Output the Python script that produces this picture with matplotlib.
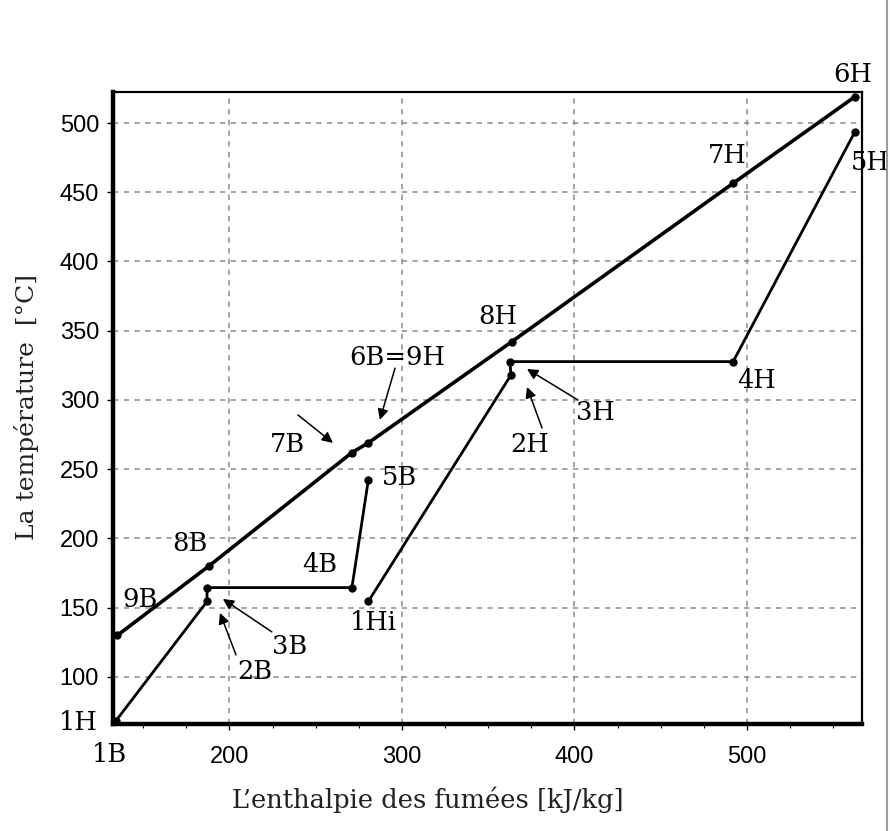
import numpy as np
import matplotlib.pyplot as plt
from matplotlib.lines import Line2D
from matplotlib.ticker import MultipleLocator

# ------------------------------------------------------------------
#                          data
# ------------------------------------------------------------------
# fumees (gas line), from 9B up to 6H
gas_h = [135, 188, 271, 280.5, 363.6, 492, 562.6]
gas_t = [130, 180, 262, 269, 342, 456.5, 519]

# basse pression : 1B -> 2B -> 3B -> 4B -> 5B
bp_h = [134, 187, 187, 271, 280.5]
bp_t = [68, 154.5, 164.5, 164.5, 242]

# haute pression : 1Hi -> 2H -> 3H -> 4H -> 5H
hp_h = [280.5, 363.2, 362.6, 492, 562.6]
hp_t = [154.5, 318, 327.7, 327.7, 493.7]

x_ticks = [200, 300, 400, 500]
y_ticks = [100, 150, 200, 250, 300, 350, 400, 450, 500]

# ------------------------------------------------------------------
#                          layout
# ------------------------------------------------------------------
# plain labels : (text, x, y)
labels = [
    ("6H", 561.4, 534.7), ("5H", 571.3, 471.8), ("7H", 488.4, 476.9),
    ("8H", 355.7, 360.0), ("4H", 505.8, 314.4), ("5B", 298.8, 243.7),
    ("4B", 252.5, 180.9), ("8B", 177.1, 196.7), ("9B", 148.1, 155.6),
    ("1Hi", 283.2, 139.0), ("1H", 112.2, 66.8), ("1B", 130.7, 43.7),
]
# labels with arrow : (text, text xy, arrow tail, arrow head)
arrows = [
    ("3H", (411.9, 290.6), (402.0, 300.0), (372.5, 322.4)),
    ("2H", (374.2, 267.5), (381.2, 279.8), (372.5, 309.4)),
    ("6B=9H", (297.1, 331.0), (296.0, 323.0), (287.2, 285.6)),
    ("7B", (233.9, 267.5), (239.7, 289.2), (260.0, 269.0)),
    ("3B", (235.1, 121.7), (224.6, 132.5), (196.2, 156.3)),
    ("2B", (214.8, 103.6), (203.8, 115.9), (194.5, 146.2)),
]

serif = ['DejaVu Serif']
fig = plt.figure(figsize=(8.9, 8.31), dpi=100)
ax = fig.add_axes([113/890, 1 - 724/831, (862-113)/890, (724-92)/831])

ax.plot(gas_h, gas_t, '-', color='black', lw=2.6, marker='o', ms=5)
ax.plot(bp_h, bp_t, '-', color='black', lw=2.0, marker='o', ms=5)
ax.plot(hp_h, hp_t, '-', color='black', lw=2.0, marker='o', ms=5)

ax.set_xlim(132.5, 566.7)
ax.set_ylim(66, 522.4)
ax.set_xticks(x_ticks)
ax.set_yticks(y_ticks)
ax.xaxis.set_minor_locator(MultipleLocator(25))
ax.grid(True, which='major', ls=(0, (3.5, 3.5)), color='#8c8c8c', lw=1.1)
ax.tick_params(direction='out', length=4, width=1, labelsize=17)
ax.tick_params(axis='x', pad=12)
ax.tick_params(axis='y', pad=6)
ax.tick_params(which='minor', direction='out', length=3, width=0.8)
for lab in ax.get_xticklabels() + ax.get_yticklabels():
    lab.set_fontfamily('Liberation Sans')

ax.spines['left'].set_linewidth(3.2)
ax.spines['bottom'].set_linewidth(3.2)
ax.spines['top'].set_linewidth(1.6)
ax.spines['right'].set_linewidth(1.6)

for txt, x, y in labels:
    ax.text(x, y, txt, fontsize=18.5, family=serif, ha='center', va='center',
            clip_on=False)

for txt, pos, tail, head in arrows:
    ax.text(pos[0], pos[1], txt, fontsize=18.5, family=serif, ha='center',
            va='center')
    ax.annotate('', xy=head, xytext=tail,
                arrowprops=dict(arrowstyle='-|>', lw=1.1, color='black',
                                mutation_scale=16, shrinkA=0, shrinkB=0))

fig.text(428/890, 1 - 800/831, "L\u2019enthalpie des fumées [kJ/kg]",
         fontsize=18.5, family=serif, ha='center', va='center', color='#222222')
fig.text(27/890, 1 - 407/831, "La température  [°C]", rotation=90,
         fontsize=18, family=serif, ha='center', va='center', color='#222222')

# bord de la page scannee
fig.add_artist(Line2D([887/890, 887/890], [0, 1], color='#9a9a9a', lw=1.5))

fig.savefig('out.png', dpi=100)
